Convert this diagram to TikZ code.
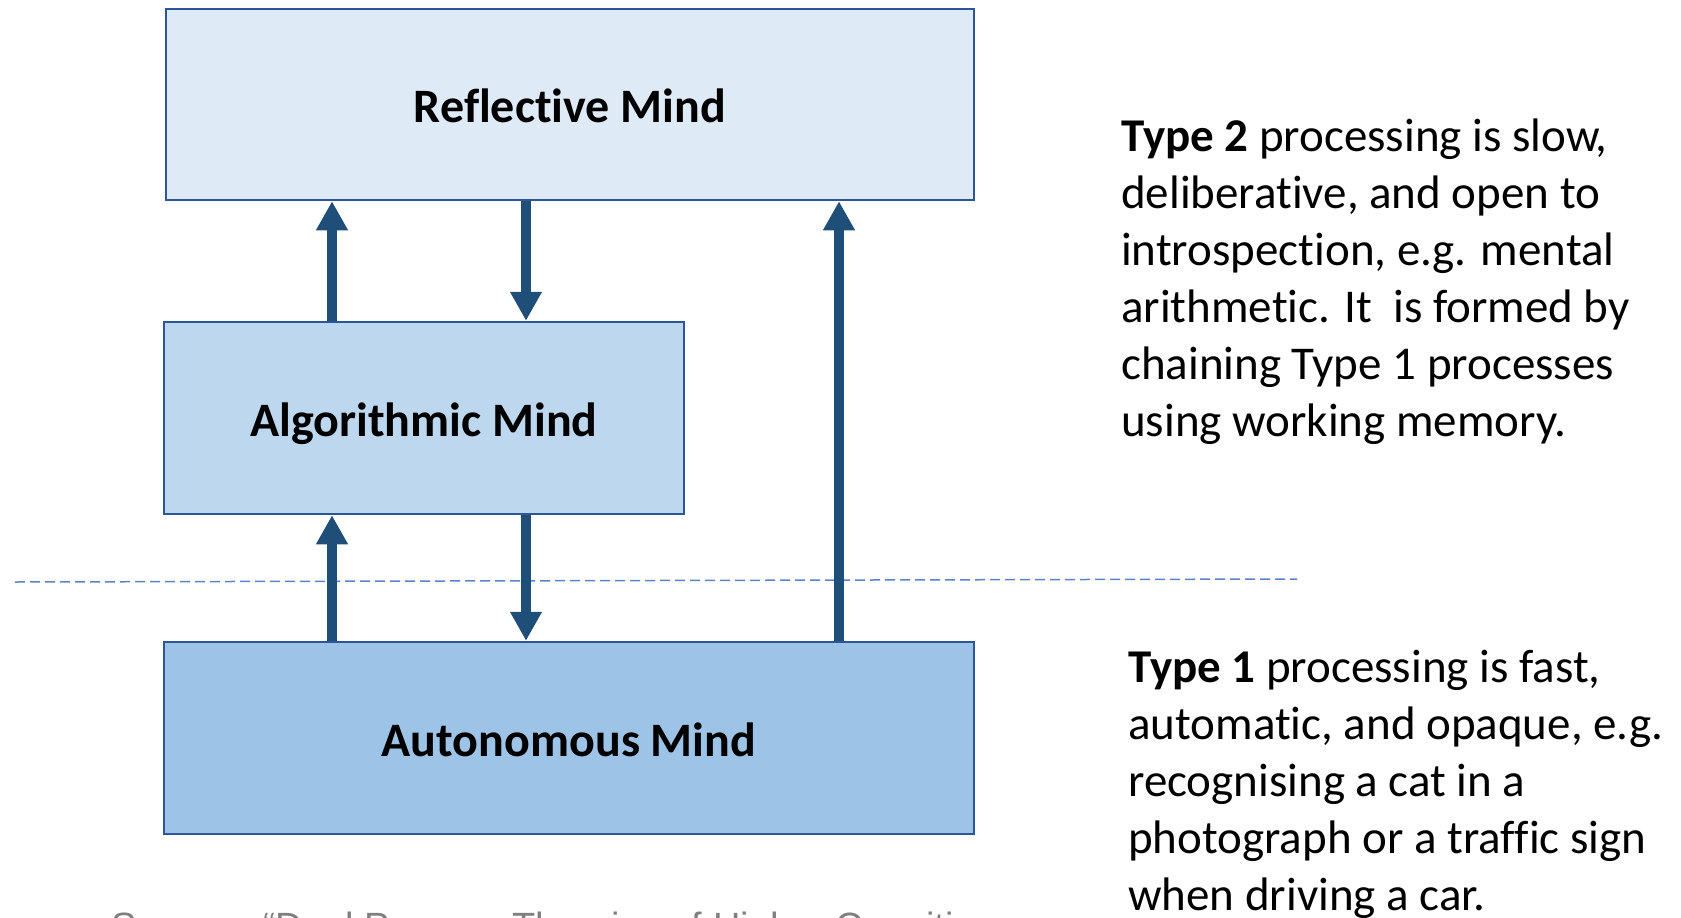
\documentclass[tikz,border=0pt]{standalone}
\usepackage{fontspec}
\setmainfont{Carlito}[Ligatures=NoCommon, RawFeature=-calt]
\newfontfamily\srcfont{Liberation Sans}
\usepackage{tikz}
\usetikzlibrary{
  calc,
  arrows.meta,
}
\definecolor{reflfill}{RGB}{222,235,247}
\definecolor{algofill}{RGB}{189,215,238}
\definecolor{autofill}{RGB}{157,195,230}
\definecolor{boxline}{RGB}{47,85,151}
\definecolor{arrdark}{RGB}{31,78,121}
\definecolor{sepline}{RGB}{90,130,205}
\definecolor{srcgray}{RGB}{128,128,128}

\begin{document}
\begin{tikzpicture}[
    x=1pt, y=-1pt,
    mind/.style={draw=boxline, line width=2.5pt, rectangle, inner sep=0pt,
        text height=46pt, text depth=10pt,
        font=\bfseries\fontsize{48}{58}\selectfont},
    arr/.style={line width=10pt, arrdark, -{Triangle[width=30pt, length=29pt]}},
    sep/.style={sepline, line width=1.5pt, dash pattern=on 10pt off 5pt},
    note/.style={anchor=north west, inner sep=0pt, align=left,
        font=\fontsize{47}{57}\selectfont},
  ]
  \clip (0,0) rectangle (1681,918);

  % the three minds
  \node[mind, fill=reflfill, minimum width=808pt, minimum height=191pt]
    (refl) at (570,104.5) {Reflective Mind};
  \node[mind, fill=algofill, minimum width=520pt, minimum height=192pt]
    (algo) at (424,418) {Algorithmic Mind};
  \node[mind, fill=autofill, minimum width=810pt, minimum height=192pt]
    (auto) at (569,738) {Autonomous Mind};

  % type 1 / type 2 boundary
  \draw[sep] (15,582) -- (1297,579);

  % arrow columns
  \coordinate (colL) at (332,0);
  \coordinate (colM) at (526,0);
  \coordinate (colR) at (839,0);

  \draw[arr] (algo.north -| colL) -- (refl.south -| colL);
  \draw[arr] (refl.south -| colM) -- (algo.north -| colM);
  \draw[arr] (auto.north -| colL) -- (algo.south -| colL);
  \draw[arr] (algo.south -| colM) -- (auto.north -| colM);
  \draw[arr] (auto.north -| colR) -- (refl.south -| colR);

  % descriptions
  \node[note] (type2) at (1121,119) {\textbf{Type 2} processing is slow,\\
    deliberative, and open to\\
    introspection, e.g. mental\\
    arithmetic. It\ \ is formed by\\
    chaining Type 1 processes\\
    using working memory.};
  \node[note] (type1) at (1128,650) {\textbf{Type 1} processing is fast,\\
    automatic, and opaque, e.g.\\
    recognising a cat in a\\
    photograph or a traffic sign\\
    when driving a car.};

  % source line (cut by the page edge)
  \node[anchor=base west, inner sep=0pt, srcgray,
      font=\srcfont\fontsize{38}{46}\selectfont]
    (src) at (111,939) {Source:\ \ “Dual Process Theories of Higher Cognition};
\end{tikzpicture}
\end{document}
